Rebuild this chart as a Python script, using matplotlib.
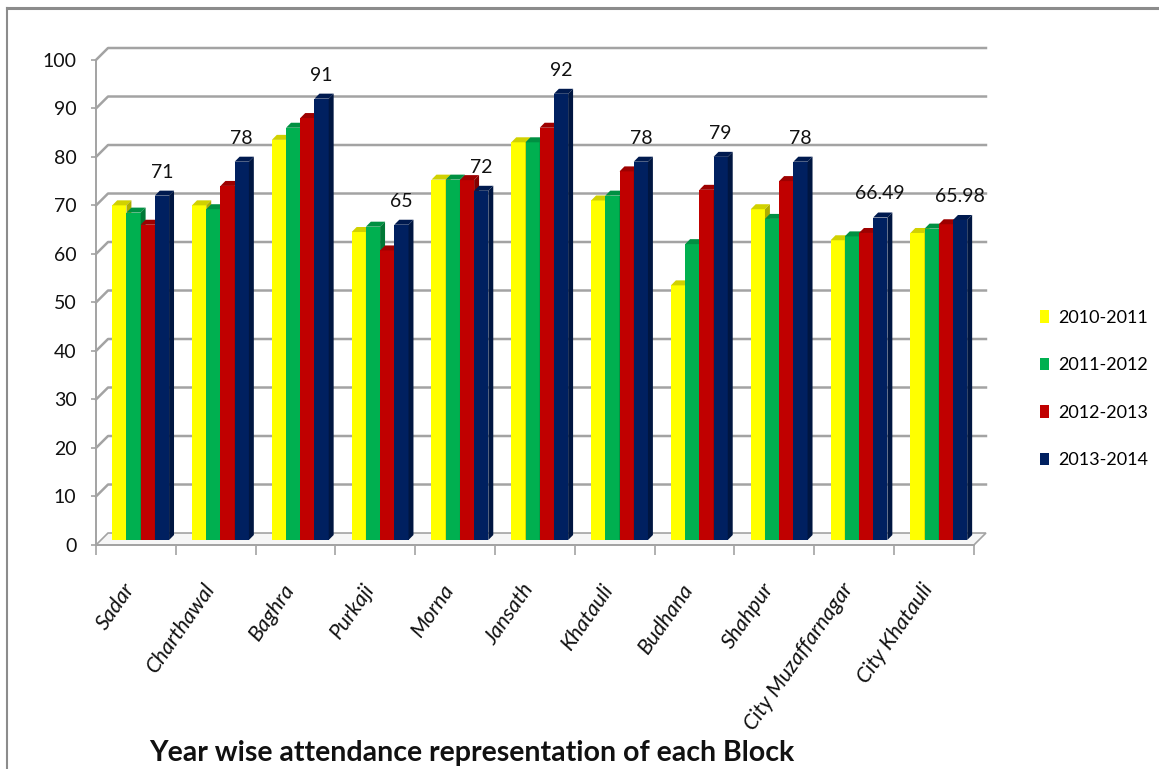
import matplotlib
matplotlib.use("Agg")
import matplotlib.pyplot as plt
from matplotlib.patches import Polygon, Patch
from matplotlib.lines import Line2D
from matplotlib.transforms import ScaledTranslation
from matplotlib.colors import to_rgb

blocks = ["Sadar", "Charthawal", "Baghra", "Purkaji", "Morna", "Jansath",
          "Khatauli", "Budhana", "Shahpur", "City Muzaffarnagar", "City Khatauli"]
years = ["2010-2011", "2011-2012", "2012-2013", "2013-2014"]
att_2010 = [69, 69, 82.5, 63.5, 74.3, 82, 70, 52.5, 68.2, 61.8, 63.3]
att_2011 = [67.5, 68.2, 85, 64.6, 74.3, 82, 71, 61, 66.2, 62.6, 64.2]
att_2012 = [65, 73, 87, 59.7, 74.2, 85, 76, 72.2, 74, 63.3, 65.1]
att_2013 = [71, 78, 91, 65, 72, 92, 78, 79, 78, 66.49, 65.98]
yticks = list(range(0, 101, 10))

series = [att_2010, att_2011, att_2012, att_2013]
colors = ["#FFFF00", "#00B050", "#C00000", "#002060"]
font = "Lato"
grey = "#A3A3A3"

fig = plt.figure(figsize=(11.59, 7.69), dpi=100)
ax = fig.add_axes([0.0828, 0.2913, 0.7575, 0.6307])
ax.set_xlim(-0.5, len(blocks) - 0.5)
ax.set_ylim(0, 100)

# pseudo 3-D depth (wall/floor and bar depth) in data units
gdx, gdy = 0.151, 2.47
bdx, bdy = 0.062, 1.03
ox, oy = 0.06, 1.03
w = 0.178


def shade(c, f):
    r, g, b = to_rgb(c)
    return (r * f, g * f, b * f)


# back wall grid lines with short diagonals to the axis
x0, x1 = -0.5, len(blocks) - 0.5
for v in yticks[1:]:
    ax.plot([x0, x0 + gdx, x1 + gdx], [v, v + gdy, v + gdy],
            color=grey, lw=1.8, clip_on=False, zorder=1)

# floor
floor = Polygon([(x0, 0), (x1, 0), (x1 + gdx, gdy), (x0 + gdx, gdy)],
                closed=True, facecolor="#F6F6F6", edgecolor=grey, lw=1.2,
                clip_on=False, zorder=1)
ax.add_patch(floor)

# bars with top and side faces
for i in range(len(blocks)):
    for j, vals in enumerate(series):
        left = i - 2 * w + j * w + ox
        top = vals[i] + oy
        right = left + w
        ax.bar(left, vals[i], width=w, bottom=oy, align="edge",
               color=colors[j], lw=0, zorder=3)
        ax.add_patch(Polygon([(left, top), (right, top), (right + bdx, top + bdy),
                              (left + bdx, top + bdy)], closed=True,
                             facecolor=shade(colors[j], 0.82), lw=0, zorder=3,
                             clip_on=False))
        ax.add_patch(Polygon([(right, oy), (right, top), (right + bdx, top + bdy),
                              (right + bdx, oy + bdy)], closed=True,
                             facecolor=shade(colors[j], 0.68), lw=0, zorder=3,
                             clip_on=False))
    v = att_2013[i]
    ax.annotate(f"{v:g}", (i + w + ox + w / 2, v + oy), xytext=(0, 13),
                textcoords="offset points", ha="center", va="baseline",
                fontsize=14, family=font, color="#111111", zorder=5,
                annotation_clip=False)

for side in ["top", "right"]:
    ax.spines[side].set_visible(False)
for side in ["left", "bottom"]:
    ax.spines[side].set_color(grey)
    ax.spines[side].set_linewidth(1.4)

ax.set_yticks(yticks)
ax.set_yticklabels([str(t) for t in yticks], family=font, fontsize=14, color="#111111")
ax.tick_params(axis="y", length=3.6, color=grey, width=1.2, pad=10.5)

ax.set_xticks(range(len(blocks)))
ax.set_xticklabels(blocks, rotation=55, ha="right", va="top", family=font,
                   fontsize=15.5, style="italic", color="#111111")
ax.set_xticks([k - 0.5 for k in range(len(blocks) + 1)], minor=True)
ax.tick_params(axis="x", which="major", length=0, pad=25)
ax.tick_params(axis="x", which="minor", length=7, color=grey, width=1.2)
for lbl in ax.get_xticklabels():
    lbl.set_transform(lbl.get_transform() + ScaledTranslation(0.03, 0, fig.dpi_scale_trans))

handles = [Patch(facecolor=c, edgecolor="none") for c in colors]
fig.legend(handles, years, loc="upper left", bbox_to_anchor=(0.8973, 0.597),
           frameon=False, borderpad=0, borderaxespad=0, handlelength=0.5,
           handleheight=0.7, handletextpad=0.5, labelspacing=1.74,
           prop={"family": font, "size": 13})

fig.text(0.4073, 1 - 761 / 769, "Year wise attendance representation of each Block",
         ha="center", va="baseline", fontsize=20.5, weight="bold", family=font,
         color="#111111")

# chart area border
fig.add_artist(Line2D([0.006, 1.0], [0.9895, 0.9895], color="#8C8C8C", lw=2.2))
fig.add_artist(Line2D([0.006, 0.006], [0.0, 0.9895], color="#8C8C8C", lw=1.5))

fig.savefig("out.png", dpi=100)
